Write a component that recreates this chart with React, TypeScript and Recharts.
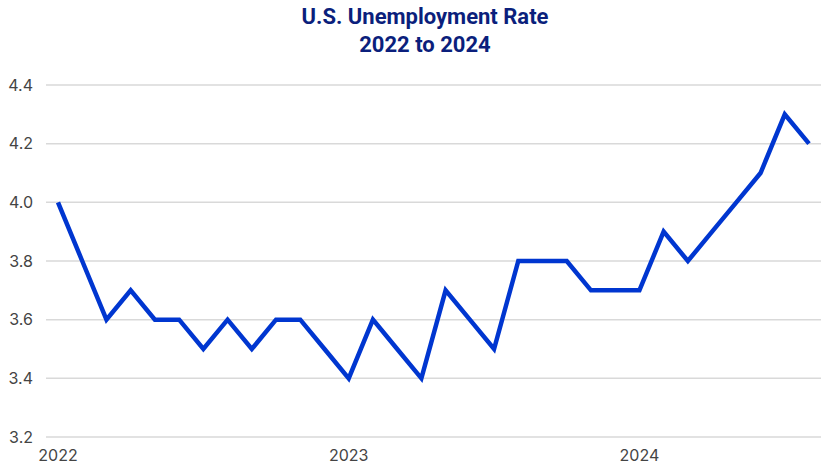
import { LineChart, Line, XAxis, YAxis, CartesianGrid } from "recharts";

// monthly, Jan 2022 .. Aug 2024
const months = [
  "2022-01", "2022-02", "2022-03", "2022-04", "2022-05", "2022-06",
  "2022-07", "2022-08", "2022-09", "2022-10", "2022-11", "2022-12",
  "2023-01", "2023-02", "2023-03", "2023-04", "2023-05", "2023-06",
  "2023-07", "2023-08", "2023-09", "2023-10", "2023-11", "2023-12",
  "2024-01", "2024-02", "2024-03", "2024-04", "2024-05", "2024-06",
  "2024-07", "2024-08",
];
const rates = [
  4.0, 3.8, 3.6, 3.7, 3.6, 3.6, 3.5, 3.6, 3.5, 3.6, 3.6, 3.5,
  3.4, 3.6, 3.5, 3.4, 3.7, 3.6, 3.5, 3.8, 3.8, 3.8, 3.7, 3.7,
  3.7, 3.9, 3.8, 3.9, 4.0, 4.1, 4.3, 4.2,
];
const xTicks = ["2022-01", "2023-01", "2024-01"];
const yTicks = [3.2, 3.4, 3.6, 3.8, 4.0, 4.2, 4.4];

const data = months.map((m, i) => ({ month: m, rate: rates[i] }));

export default function App() {
  return (
    <div style={{ position: "fixed", top: 0, left: 0, width: 840, height: 472, background: "#fff" }}>
      <div
        style={{
          position: "absolute",
          top: 3,
          left: 0,
          width: 850,
          textAlign: "center",
          fontFamily: "Roboto, sans-serif",
          fontWeight: 700,
          fontSize: 22,
          lineHeight: "28px",
          color: "#0b1f7c",
        }}
      >
        <div>U.S. Unemployment Rate</div>
        <div>2022 to 2024</div>
      </div>
      <LineChart
        width={840}
        height={472}
        data={data}
        margin={{ top: 85, right: 19, bottom: 0, left: 0 }}
      >
        <CartesianGrid vertical={false} stroke="#d9d9d9" strokeWidth={1.5} />
        <XAxis
          dataKey="month"
          ticks={xTicks}
          tickFormatter={(v: string) => v.slice(0, 4)}
          axisLine={false}
          tickLine={false}
          tickSize={0}
          tickMargin={13}
          height={35}
          padding={{ left: 12, right: 12 }}
          interval={0}
          tick={{ fill: "#444", fontSize: 16, fontFamily: "Inter, sans-serif" }}
        />
        <YAxis
          domain={[3.2, 4.4]}
          ticks={yTicks}
          tickFormatter={(v: number) => v.toFixed(1)}
          axisLine={false}
          tickLine={false}
          tickSize={0}
          tickMargin={13}
          width={46}
          tick={{ fill: "#444", fontSize: 16, fontFamily: "Inter, sans-serif" }}
        />
        <Line
          type="linear"
          dataKey="rate"
          stroke="#0036d0"
          strokeWidth={4.5}
          dot={false}
          strokeLinejoin="miter"
          isAnimationActive={false}
        />
      </LineChart>
    </div>
  );
}
